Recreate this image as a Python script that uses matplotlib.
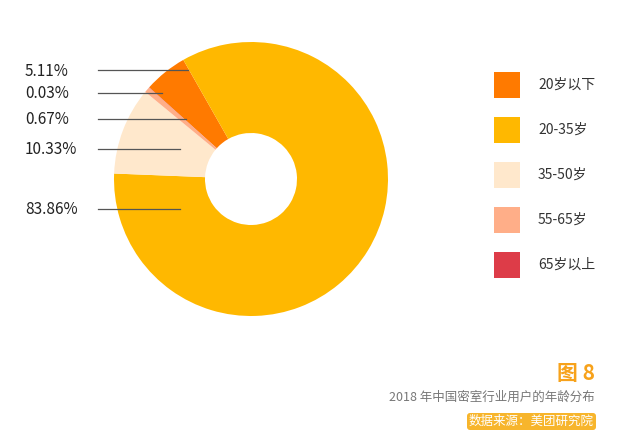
import matplotlib.pyplot as plt
from matplotlib.patches import FancyBboxPatch

plt.rcParams['font.family'] = ['Noto Sans CJK SC', 'DejaVu Sans']

categories = ['20岁以下', '20-35岁', '35-50岁', '55-65岁', '65岁以上']
shares = [5.11, 83.86, 10.33, 0.67, 0.03]
colors = ['#FF7A00', '#FFB800', '#FFE8CC', '#FFAE88', '#DD3C48']

# labels on the left, top to bottom, with (line y, line end x) in pixels
label_text = ['5.11%', '0.03%', '0.67%', '10.33%', '83.86%']
label_y = [70, 93, 119, 149, 209]
line_end = [188, 162, 186, 180, 180]

W, H = 640, 441
fig = plt.figure(figsize=(6.4, 4.41), dpi=100)

cx, cy, r = 251, 179, 137
ax = fig.add_axes([(cx - r) / W, (H - cy - r) / H, 2 * r / W, 2 * r / H])
ax.pie(shares, colors=colors, startangle=138, counterclock=False,
       radius=1, wedgeprops=dict(width=1 - 46 / 137, linewidth=0))
ax.set_xlim(-1, 1)
ax.set_ylim(-1, 1)
ax.set_aspect('auto')
ax.axis('off')

ov = fig.add_axes([0, 0, 1, 1], zorder=5)
ov.set_xlim(0, W)
ov.set_ylim(H, 0)
ov.axis('off')

for t, y, xe in zip(label_text, label_y, line_end):
    ov.text(25, y + 1, t, fontsize=11, color='#222222', va='center', ha='left')
    ov.plot([98, xe], [y, y], color='#555555', lw=0.9)

# legend
for i, (c, name) in enumerate(zip(colors, categories)):
    y = 85 + 45 * i
    ov.add_patch(plt.Rectangle((494, y - 13), 26, 26, color=c, lw=0))
    ov.text(538, y, name, fontsize=10, color='#333333', va='center', ha='left')

ov.text(595, 373, '图 8', fontsize=15, color='#F7A21B', fontweight='bold',
        va='center', ha='right')
ov.text(595, 397, '2018 年中国密室行业用户的年龄分布', fontsize=9,
        color='#777777', va='center', ha='right')
ov.add_patch(FancyBboxPatch((467, 413), 129, 17, boxstyle='round,pad=0,rounding_size=3',
                            color='#F7B52C', lw=0))
ov.text(531.5, 421.5, '数据来源：美团研究院', fontsize=9, color='white',
        va='center', ha='center')

fig.savefig('out.png', dpi=100)
